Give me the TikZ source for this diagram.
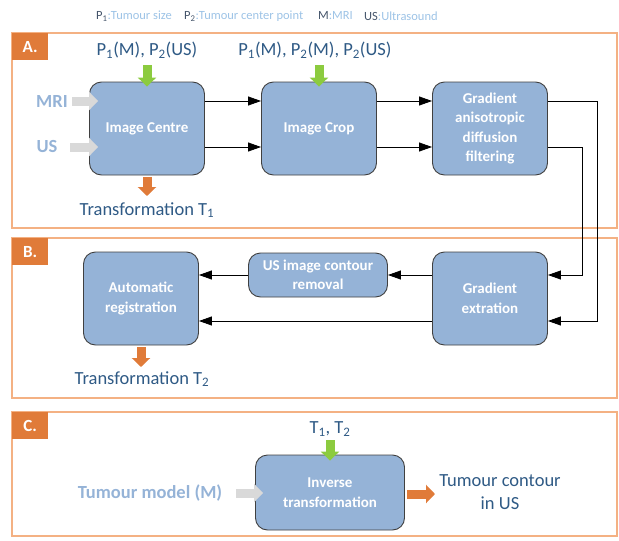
\documentclass[tikz,border=0pt]{standalone}
\usepackage{fontspec}
\setmainfont{Carlito}
\usetikzlibrary{arrows.meta,calc}

\definecolor{boxfill}{HTML}{95B3D7}
\definecolor{boxline}{HTML}{404040}
\definecolor{framecol}{HTML}{F4B183}
\definecolor{tagfill}{HTML}{E07B39}
\definecolor{darktext}{HTML}{2F5A85}
\definecolor{lighttext}{HTML}{95B3D7}
\definecolor{legendlight}{HTML}{9DC3E6}
\definecolor{legenddark}{HTML}{44546A}
\definecolor{greenarr}{HTML}{8CCB3F}
\definecolor{orangearr}{HTML}{E07B39}
\definecolor{grayarr}{HTML}{D9D9D9}

\tikzset{
  stepbox/.style={draw=boxline, line width=0.9pt, fill=boxfill, rounded corners=12pt,
    text=white, font=\fontsize{15}{19.5}\selectfont\bfseries, align=center,
    inner sep=2pt},
  bigbox/.style={stepbox, minimum width=115pt, minimum height=93pt},
  frame/.style={draw=framecol, line width=1.2pt},
  tag/.style={fill=tagfill, text=white, font=\fontsize{17}{19}\selectfont\bfseries,
    minimum width=36pt, minimum height=27pt, inner sep=0pt, anchor=north west},
  conn/.style={draw=black, line width=0.8pt, -{Triangle[length=13pt,width=9pt]}},
  blockarr/.style={line width=9pt, -{Triangle[length=9pt,width=18pt]}},
  garr/.style={blockarr, draw=greenarr},
  oarr/.style={blockarr, draw=orangearr},
  gyarr/.style={blockarr, draw=grayarr},
  param/.style={text=darktext, font=\fontsize{18.5}{23}\selectfont},
  inlbl/.style={text=lighttext, font=\fontsize{18.5}{22}\selectfont\bfseries},
  legend/.style={font=\fontsize{12.5}{15}\selectfont, inner sep=0pt, anchor=west}
}

\begin{document}
\begin{tikzpicture}[x=1pt,y=-1pt]
\useasboundingbox (0,0) rectangle (619,541);

% legend
\node[legend] (lg1) at (96,16) {\textcolor{legenddark}{P\textsubscript{1}}\textcolor{legendlight}{:Tumour size}};
\node[legend] (lg2) at (184,16) {\textcolor{legenddark}{P\textsubscript{2}}\textcolor{legendlight}{:Tumour center point}};
\node[legend] (lg3) at (318,16) {\textcolor{legenddark}{M}\textcolor{legendlight}{:MRI}};
\node[legend] (lg4) at (364,16) {\textcolor{legenddark}{US}\textcolor{legendlight}{:Ultrasound}};

% section frames
\draw[frame] (12,33) rectangle (617,228);
\node[tag] (tA) at (12,33) {A.};
\draw[frame] (12,238) rectangle (617,398);
\node[tag] (tB) at (12,238) {B.};
\draw[frame] (12,412) rectangle (617,536);
\node[tag] (tC) at (12,412) {C.};

% section A
\node[bigbox] (ic) at (147,128.5) {Image Centre};
\node[bigbox] (crop) at (319,128.5) {Image Crop};
\node[bigbox] (gad) at (490,128.5) {Gradient\\anisotropic\\diffusion\\filtering};

\node[param] (pa) at (147,50) {P\textsubscript{1}(M), P\textsubscript{2}(US)};
\node[param] (pb) at (315,50) {P\textsubscript{1}(M), P\textsubscript{2}(M), P\textsubscript{2}(US)};
\node[inlbl] (mri) at (52,101) {MRI};
\node[inlbl] (us) at (47,147) {US};
\node[param] (t1) at (147,210) {Transformation T\textsubscript{1}};

\draw[garr] (147,65) -- ([yshift=-5pt]ic.north);
\draw[garr] (319,65) -- ([yshift=-5pt]crop.north);
\draw[gyarr] (72,101) -- ([xshift=9pt]ic.west |- mri);
\draw[gyarr] (70,147) -- ([xshift=9pt]ic.west |- us);
\draw[oarr] ([yshift=-2pt]ic.south) -- (147,196);

\draw[conn] ([yshift=27.5pt]ic.east) -- ([yshift=27.5pt]crop.west);
\draw[conn] ([yshift=-18.5pt]ic.east) -- ([yshift=-18.5pt]crop.west);
\draw[conn] ([yshift=27.5pt]crop.east) -- ([yshift=27.5pt]gad.west);
\draw[conn] ([yshift=-18.5pt]crop.east) -- ([yshift=-18.5pt]gad.west);

% section B
\node[bigbox] (ge) at (490,298.5) {Gradient\\extration};
\node[stepbox, minimum width=139pt, minimum height=44pt] (usc) at (318,275) {US image contour\\removal};
\node[bigbox] (ar) at (141,298.5) {Automatic\\registration};
\node[param] (t2) at (142,379) {Transformation T\textsubscript{2}};

\coordinate (o1) at (597,101);
\coordinate (o2) at (597,321);
\coordinate (i1) at (582,147);
\coordinate (i2) at (582,275);
\draw[conn] ([yshift=27.5pt]gad.east) -- (o1) -- (o2) -- ([yshift=-22.5pt]ge.east);
\draw[conn] ([yshift=-18.5pt]gad.east) -- (i1) -- (i2) -- ([yshift=23.5pt]ge.east);

\draw[conn] ([yshift=23.5pt]ge.west) -- (usc.east);
\draw[conn] (usc.west) -- ([yshift=23.5pt]ar.east);
\draw[conn] ([yshift=-22.5pt]ge.west) -- ([yshift=-22.5pt]ar.east);
\draw[oarr] ([yshift=-2pt]ar.south) -- (141,367);

% section C
\node[stepbox, minimum width=149pt, minimum height=75pt] (inv) at (330,492.5) {Inverse\\transformation};
\node[param] (tt) at (330,429) {T\textsubscript{1}, T\textsubscript{2}};
\node[inlbl] (tm) at (150,493) {Tumour model (M)};
\node[param, align=center] (tc) at (500,492) {Tumour contour\\in US};

\draw[garr] (330,440) -- ([yshift=-6pt]inv.north);
\draw[gyarr] (236,493) -- ([xshift=8pt]inv.west |- tm);
\draw[oarr] ([xshift=2pt]inv.east |- 0,494) -- (435,494);
\end{tikzpicture}
\end{document}
